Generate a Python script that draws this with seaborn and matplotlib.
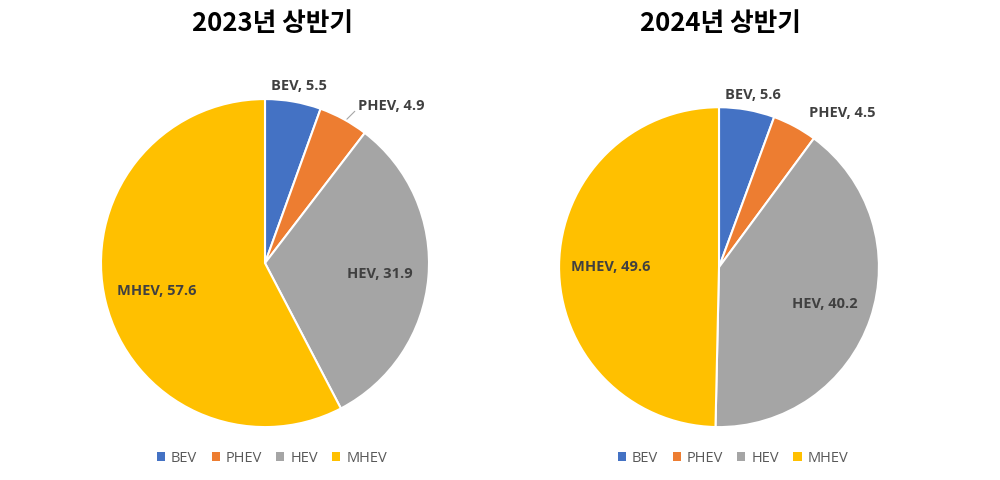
import numpy as np
import seaborn as sns
import matplotlib.pyplot as plt
from matplotlib.patches import Patch
from matplotlib.lines import Line2D

categories = ['BEV', 'PHEV', 'HEV', 'MHEV']
share_2023 = [5.5, 4.9, 31.9, 57.6]
share_2024 = [5.6, 4.5, 40.2, 49.6]
titles = ['2023년 상반기', '2024년 상반기']

colors = sns.color_palette(['#4472C4', '#ED7D31', '#A5A5A5', '#FFC000'])

sns.set_theme(style='white')
plt.rcParams['font.family'] = ['Open Sans', 'Noto Sans CJK KR', 'DejaVu Sans']

fig = plt.figure(figsize=(10, 4.81), dpi=100)

# pie axes placed by pixel geometry of the reference
ax_left = fig.add_axes([0.101, 0.110, 0.328, 0.682])
ax_right = fig.add_axes([0.559, 0.110, 0.320, 0.665])

# label placement: radius factor and extra x shift, per slice
label_r = [1.1, 1.1, 0.7, 0.68]
label_dx = [0.02, 0.26, 0.0, 0.0]


def draw_pie(ax, values, leader):
    wedges, _ = ax.pie(values, colors=colors, startangle=90, counterclock=False,
                       wedgeprops={'edgecolor': 'white', 'linewidth': 1.5})
    total = sum(values)
    start = 0.0
    for i, (cat, v) in enumerate(zip(categories, values)):
        mid = (start + v / 2) / total * 2 * np.pi
        start += v
        x = np.sin(mid) * label_r[i] + label_dx[i]
        y = np.cos(mid) * label_r[i]
        ha = 'center'
        if label_dx[i] > 0.1:
            ha = 'left'
            x = x - 0.22
        ax.text(x, y, f'{cat}, {v}', ha=ha, va='center', fontsize=10.5,
                fontweight='bold', color='#404040')
        if leader and label_dx[i] > 0.1:
            ex, ey = np.sin(mid) * 1.0, np.cos(mid) * 1.0
            ax.add_line(Line2D([ex + 0.02, x - 0.02], [ey, y - 0.04],
                               color='#A6A6A6', lw=0.8))
    ax.set_aspect('equal')
    ax.set_xlim(-1, 1)
    ax.set_ylim(-1, 1)
    ax.axis('off')


draw_pie(ax_left, share_2023, True)
draw_pie(ax_right, share_2024, False)

fig.text(0.272, 0.952, titles[0], ha='center', va='center', fontsize=18.5,
         family=['Noto Sans CJK KR'], fontweight='bold', color='black')
fig.text(0.720, 0.952, titles[1], ha='center', va='center', fontsize=18.5,
         family=['Noto Sans CJK KR'], fontweight='bold', color='black')

handles = [Patch(facecolor=c, edgecolor='none') for c in colors]
for cx in [0.272, 0.733]:
    fig.legend(handles, categories, loc='center', bbox_to_anchor=(cx, 0.046),
               ncol=4, frameon=False, fontsize=10.5, labelcolor='#595959',
               handlelength=0.55, handleheight=0.55, handletextpad=0.4,
               columnspacing=1.0)

fig.savefig('out.png', dpi=100, facecolor='white')
